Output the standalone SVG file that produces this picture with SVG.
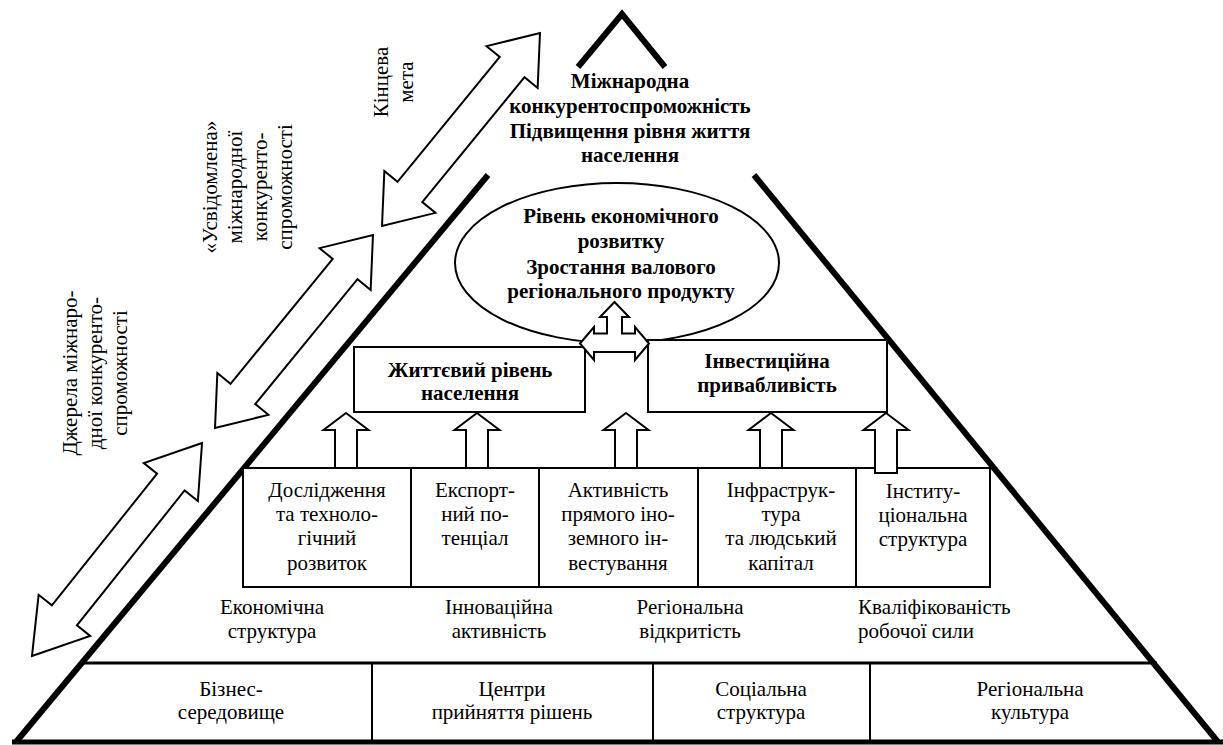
<svg xmlns="http://www.w3.org/2000/svg" width="1223" height="745" viewBox="0 0 1223 745">
<style>
.t{font-family:"Liberation Serif","Times New Roman",serif;font-size:21px;text-anchor:middle;fill:#000}
.b{font-weight:bold}
.s{text-anchor:start}
.box{fill:#fff;stroke:#000;stroke-width:2}
.thin{fill:none;stroke:#000;stroke-width:2}
.arr{fill:#fff;stroke:#000;stroke-width:2;stroke-linejoin:miter}
.thick{fill:none;stroke:#000;stroke-width:6;stroke-linejoin:miter;stroke-miterlimit:10}
</style>
<rect width="1223" height="745" fill="#fff"/>

<g id="pyramid">
<polyline class="thick" points="578,67 622,14 665,67"/>
<line x1="488" y1="175" x2="16" y2="742" stroke="#000" stroke-width="6"/>
<line x1="754" y1="175" x2="1218" y2="742" stroke="#000" stroke-width="6"/>
<line x1="12" y1="742" x2="1223" y2="742" stroke="#000" stroke-width="5"/>
<line x1="80" y1="663" x2="1157" y2="663" stroke="#000" stroke-width="3"/>
</g>

<g id="top-goal">
<text class="t b" x="630" y="88">Міжнародна</text>
<text class="t b" x="630" y="113">конкурентоспроможність</text>
<text class="t b" x="630" y="138">Підвищення рівня життя</text>
<text class="t b" x="630" y="162">населення</text>
</g>

<g id="economic-level">
<ellipse cx="617" cy="263" rx="162" ry="80" class="thin" fill="#fff"/>
<text class="t b" x="621" y="223">Рівень економічного</text>
<text class="t b" x="621" y="248">розвитку</text>
<text class="t b" x="621" y="274">Зростання валового</text>
<text class="t b" x="621" y="298">регіонального продукту</text>
</g>

<g id="living-standard">
<rect class="box" x="354" y="347" width="231" height="65"/>
<text class="t b" x="470" y="377">Життєвий рівень</text>
<text class="t b" x="470" y="400">населення</text>
</g>

<g id="investment">
<rect class="box" x="648" y="340" width="239" height="72"/>
<text class="t b" x="767" y="368">Інвестиційна</text>
<text class="t b" x="767" y="392">привабливість</text>
</g>

<g id="factors">
<rect class="box" x="243" y="468" width="747" height="119"/>
<line class="thin" x1="411" y1="468" x2="411" y2="587"/>
<line class="thin" x1="539" y1="468" x2="539" y2="587"/>
<line class="thin" x1="698" y1="468" x2="698" y2="587"/>
<line class="thin" x1="856" y1="468" x2="856" y2="587"/>
<text class="t" x="327" y="497">Дослідження</text>
<text class="t" x="327" y="521">та техноло-</text>
<text class="t" x="327" y="545">гічний</text>
<text class="t" x="327" y="570">розвиток</text>
<text class="t" x="475" y="497">Експорт-</text>
<text class="t" x="475" y="521">ний по-</text>
<text class="t" x="475" y="545">тенціал</text>
<text class="t" x="618" y="497">Активність</text>
<text class="t" x="618" y="521">прямого іно-</text>
<text class="t" x="618" y="545">земного ін-</text>
<text class="t" x="618" y="570">вестування</text>
<text class="t" x="781" y="497">Інфраструк-</text>
<text class="t" x="781" y="521">тура</text>
<text class="t" x="781" y="545">та людський</text>
<text class="t" x="781" y="570">капітал</text>
<text class="t" x="923" y="498">Інститу-</text>
<text class="t" x="923" y="522">ціональна</text>
<text class="t" x="923" y="546">структура</text>
</g>

<g id="conditions">
<text class="t" x="272" y="614">Економічна</text>
<text class="t" x="272" y="638">структура</text>
<text class="t" x="499" y="614">Інноваційна</text>
<text class="t" x="499" y="638">активність</text>
<text class="t" x="690" y="614">Регіональна</text>
<text class="t" x="690" y="638">відкритість</text>
<text class="t s" x="858" y="614">Кваліфікованість</text>
<text class="t s" x="858" y="638">робочої сили</text>
</g>

<g id="foundations">
<line class="thin" x1="372" y1="663" x2="372" y2="742"/>
<line class="thin" x1="653" y1="663" x2="653" y2="742"/>
<line class="thin" x1="870" y1="663" x2="870" y2="742"/>
<text class="t" x="231" y="696">Бізнес-</text>
<text class="t" x="231" y="719">середовище</text>
<text class="t" x="512" y="696">Центри</text>
<text class="t" x="512" y="719">прийняття рішень</text>
<text class="t" x="761" y="696">Соціальна</text>
<text class="t" x="761" y="719">структура</text>
<text class="t" x="1030" y="696">Регіональна</text>
<text class="t" x="1030" y="719">культура</text>
</g>

<g id="side-labels">
<g transform="translate(388,82) rotate(-90)">
<text class="t" x="0" y="0">Кінцева</text>
<text class="t" x="0" y="25">мета</text>
</g>
<g transform="translate(217,187) rotate(-90)">
<text class="t" x="0" y="0">«Усвідомлена»</text>
<text class="t" x="0" y="25">міжнародної</text>
<text class="t" x="0" y="50">конкуренто-</text>
<text class="t" x="0" y="75">спроможності</text>
</g>
<g transform="translate(77,373) rotate(-90)">
<text class="t" x="0" y="0">Джерела міжнаро-</text>
<text class="t" x="0" y="25">дної конкуренто-</text>
<text class="t" x="0" y="50">спроможності</text>
</g>
</g>

<g id="connectors">
<polygon class="arr" transform="translate(461,129.5) rotate(-50.7)" points="-124.7,0 -80.7,-33 -80.7,-16 80.7,-16 80.7,-33 124.7,0 80.7,33 80.7,16 -80.7,16 -80.7,33"/>
<polygon class="arr" transform="translate(294,331.5) rotate(-50.7)" points="-124.7,0 -80.7,-33 -80.7,-16 80.7,-16 80.7,-33 124.7,0 80.7,33 80.7,16 -80.7,16 -80.7,33"/>
<polygon class="arr" transform="translate(117,549.5) rotate(-51.4)" points="-136.3,0 -84.3,-33 -84.3,-16 84.3,-16 84.3,-33 136.3,0 88.3,33 88.3,16 -84.3,16 -84.3,33"/>
<polygon class="arr" points="346,413 368.5,430 357,430 357,468 335,468 335,430 323.5,430"/>
<polygon class="arr" points="477,413 499.5,430 488,430 488,468 466,468 466,430 454.5,430"/>
<polygon class="arr" points="626,413 648.5,430 637,430 637,468 615,468 615,430 603.5,430"/>
<polygon class="arr" points="771,413 793.5,430 782,430 782,468 760,468 760,430 748.5,430"/>
<polygon class="arr" points="886,413 908.5,430 897,430 897,473 875,473 875,430 863.5,430"/>
<polygon class="arr" points="580,343.5 594,327 594,333.5 607,333.5 607,317 600,317 614.5,302 629,317 622,317 622,333.5 635,333.5 635,327 649,343.5 635,360 635,352 594,352 594,360"/>
</g>
</svg>
